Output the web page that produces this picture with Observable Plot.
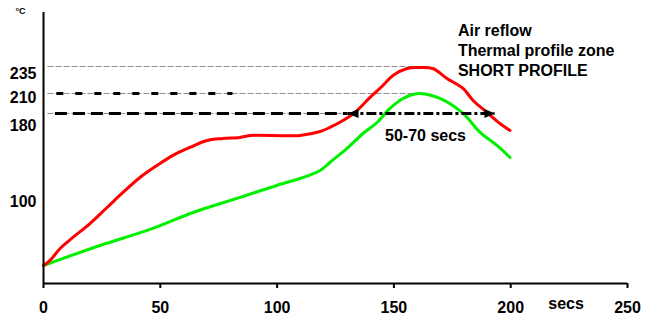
<!DOCTYPE html>
<html><head><meta charset="utf-8">
<script src="https://cdn.jsdelivr.net/npm/d3@7"></script>
<script src="https://cdn.jsdelivr.net/npm/@observablehq/plot@0.6"></script>
<style>html,body{margin:0;padding:0;background:#fff}</style>
</head><body><div id="chart"></div>
<script>
// Time (secs) and temperature (°C)
const redTime = [0,2.8,7.1,12.6,19.9,27.2,34.0,41.3,48.6,55.4,62.7,70.0,76.8,84.1,88.4,109.8,118.4,122.6,128.2,133.3,139.8,145.3,149.6,155.6,160.3,166.7,172.7,179.6,183.9,189.9,195.4,199.7];
const redTemp = [32.0,37.4,50.1,61.8,76.6,93.6,109.6,125.5,138.2,148.9,157.4,164.8,166.9,168.0,170.1,170.1,174.3,178.6,186.0,194.5,210.5,223.2,233.8,241.2,242.3,241.2,230.6,220.0,207.3,194.5,182.8,175.4];
const greenTime = [0,24.2,45.6,64.0,84.1,102.5,109.8,118.4,122.6,129.9,136.8,142.8,148.3,153.9,158.2,161.2,169.7,179.6,186.9,194.1,199.7];
const greenTemp = [32.0,53.3,70.3,88.3,104.3,119.1,124.4,132.9,141.4,156.3,172.2,183.9,198.8,209.4,213.6,214.7,209.4,193.5,173.3,159.5,146.7];

const xTicks = [0,50,100,150,200,250];
const yTicks = [235,210,180,100];
const yDomain = [12.9, 300.7];

// reference levels (thin guides), their start / end times
const refLevels = [243.4, 214.7, 193.5];
const refStart = [1.9, 1.9, 1.9];
const refEnd = [165, 160.3, 130.3];
// bold dashed overlays
const boldLevels = [214.7, 193.5];
const boldStart = [5.7, 5.1];
const boldEnd = [81.1, 130.3];
// double arrow
const arrowLevel = 193.5;
const arrowFrom = 130.3;
const arrowTo = 193.3;

const titleText = "Air reflow\nThermal profile zone\nSHORT PROFILE";
const spanLabel = "50-70 secs";
const xUnit = "secs";
const yUnit = "°C";

const red = redTime.map((t, i) => ({t, v: redTemp[i]}));
const green = greenTime.map((t, i) => ({t, v: greenTemp[i]}));
const refs = refLevels.map((v, i) => ({v, t1: refStart[i], t2: refEnd[i]}));
const bolds = boldLevels.map((v, i) => ({v, t1: boldStart[i], t2: boldEnd[i]}));
const arrow = [{v: arrowLevel, t1: arrowFrom, t2: arrowTo}];

const triRight = {draw(ctx, size) { const r = Math.sqrt(size / Math.PI); const L = 2.8 * r, h = 1.2 * r; ctx.moveTo(0, 0); ctx.lineTo(-L, -h); ctx.lineTo(-L, h); ctx.closePath(); }};
const triLeft = {draw(ctx, size) { const r = Math.sqrt(size / Math.PI); const L = 2.8 * r, h = 1.2 * r; ctx.moveTo(0, 0); ctx.lineTo(L, -h); ctx.lineTo(L, h); ctx.closePath(); }};

const font = "'Liberation Sans', Arial, Helvetica, sans-serif";

const chart = Plot.plot({
  width: 651, height: 315,
  marginLeft: 43, marginRight: 24, marginTop: 12, marginBottom: 32,
  style: {fontFamily: font, fontSize: "16px", fontWeight: "bold", color: "black", background: "white"},
  x: {domain: [0, 250], label: null},
  y: {domain: yDomain, label: null},
  marks: [
    Plot.ruleY(refs, {y: "v", x1: "t1", x2: "t2", stroke: "#8a8a8a", strokeWidth: 1, strokeDasharray: "6,2"}),
    Plot.ruleY(bolds.slice(0, 1), {y: "v", x1: "t1", x2: "t2", stroke: "black", strokeWidth: 3, strokeDasharray: "7,12"}),
    Plot.ruleY(bolds.slice(1), {y: "v", x1: "t1", x2: "t2", stroke: "black", strokeWidth: 3, strokeDasharray: "12,6"}),
    Plot.line(green, {x: "t", y: "v", stroke: "#00f000", strokeWidth: 3, curve: "catmull-rom"}),
    Plot.line(red, {x: "t", y: "v", stroke: "#ff0000", strokeWidth: 3, curve: "catmull-rom"}),
    Plot.ruleY(arrow, {y: "v", x1: "t1", x2: "t2", stroke: "black", strokeWidth: 3, strokeDasharray: "10,3,3,3"}),
    Plot.dot(arrow, {x: "t1", y: "v", symbol: triLeft, r: 3.8, fill: "black", stroke: "none"}),
    Plot.dot(arrow, {x: "t2", y: "v", symbol: triRight, r: 3.8, fill: "black", stroke: "none"}),
    Plot.ruleX([0], {strokeWidth: 2}),
    Plot.ruleY([yDomain[0]], {strokeWidth: 2}),
    Plot.axisX({ticks: xTicks, tickSize: 5, tickPadding: 13, strokeWidth: 2, label: null}),
    Plot.axisY({ticks: yTicks, tickSize: 0, tickPadding: 7, label: null}),
    Plot.text([titleText], {x: 177.4, y: 291.2, textAnchor: "start", lineAnchor: "top", lineHeight: 1.25, fontSize: 16}),
    Plot.text([spanLabel], {x: 146.2, y: 170.1, textAnchor: "start", lineAnchor: "middle", fontSize: 16}),
    Plot.text([xUnit], {x: 223.7, y: -8.3, textAnchor: "middle", lineAnchor: "middle", fontSize: 16}),
    Plot.text([yUnit], {frameAnchor: "top-left", dx: -23, dy: -1, textAnchor: "middle", lineAnchor: "middle", fontSize: 9})
  ]
});
document.getElementById("chart").appendChild(chart);
</script>
</body></html>
